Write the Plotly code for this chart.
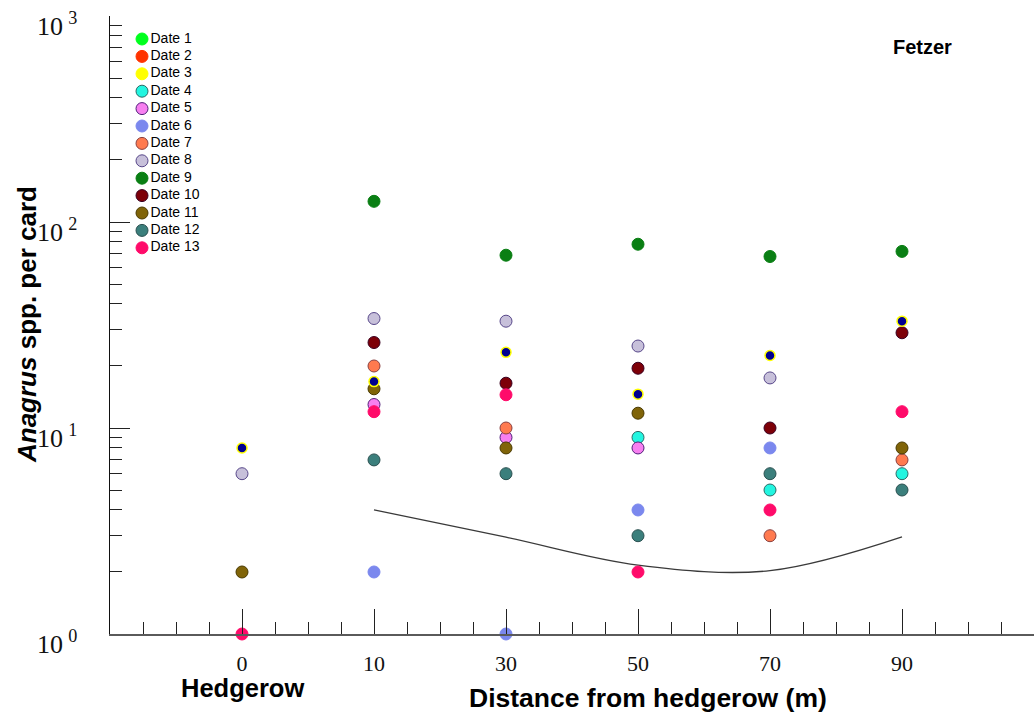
import math
import plotly.graph_objects as go

# Sampling stations (m from hedgerow); plotted at evenly spaced positions
distance_labels = ["0", "10", "30", "50", "70", "90"]
positions = [0, 1, 2, 3, 4, 5]

# Anagrus counts per sticky card, one list per sampling date (None = no card)
date_names = ["Date 1", "Date 2", "Date 3", "Date 4", "Date 5", "Date 6", "Date 7",
              "Date 8", "Date 9", "Date 10", "Date 11", "Date 12", "Date 13"]
date1 = [None, None, None, None, None, None]
date2 = [None, None, None, None, None, None]
date3 = [None, None, None, None, None, None]
date4 = [None, None, None, 9, 5, 6]
date5 = [None, 13, 9, 8, None, None]
date6 = [None, 2, 1, 4, 8, None]
date7 = [None, 20, 10, None, 3, 7]
date8 = [6, 34, 33, 25, 17.5, None]
date9 = [None, 126, 69, 78, 68, 72]
date10 = [None, 26, 16.5, 19.5, 10, 29]
date11 = [2, 15.5, 8, 11.8, None, 8]
date12 = [None, 7, 6, 3, 6, 5]
date13 = [1, 12, 14.5, 2, 4, 12]
date_values = [date1, date2, date3, date4, date5, date6, date7,
               date8, date9, date10, date11, date12, date13]

# Navy series drawn without a legend entry
navy_values = [8, 16.8, 23.3, 14.6, 22.5, 33]

# Fitted trend across the field
trend_positions = [1, 2, 3, 4, 5]
trend_values = [4.0, 2.95, 2.16, 2.03, 2.96]

# Decade tick labels on the count axis
decades = [1, 10, 100, 1000]
decade_labels = ["10\u2009<sup>0</sup>", "10\u2009<sup>1</sup>",
                 "10\u2009<sup>2</sup>", "10\u2009<sup>3</sup>"]

fill_colors = ["#00ff1e", "#ff3300", "#ffff00", "#22f5e0", "#f77ff0", "#7b88ee", "#ff7a4f",
               "#c7c0da", "#0a7f14", "#7d0008", "#806408", "#3b7f7c", "#ff0b6a"]
edge_colors = ["#00ff1e", "#ff3300", "#ffff00", "#2a6a66", "#50207a", "#7b88ee", "#8a4040",
               "#58488a", "#0a7f14", "#3a0020", "#4a3a00", "#2a5050", "#ff0b6a"]

SANS = "Liberation Sans, Arial, sans-serif"
SERIF = "Liberation Serif, Times New Roman, serif"

fig = go.Figure()

fig.add_trace(go.Scatter(
    x=trend_positions, y=trend_values, mode="lines",
    line=dict(color="#3a3a3a", width=1.3, shape="spline", smoothing=1.0),
    showlegend=False, hoverinfo="skip"))

for name, vals, fc, ec in zip(date_names, date_values, fill_colors, edge_colors):
    fig.add_trace(go.Scatter(
        x=positions, y=vals, mode="markers", name=name,
        marker=dict(size=12, color=fc, line=dict(color=ec, width=1)),
        cliponaxis=False, showlegend=False))

fig.add_trace(go.Scatter(
    x=positions, y=navy_values, mode="markers", name="navy",
    marker=dict(size=10, color="#000090", line=dict(color="#ffff00", width=1.5)),
    cliponaxis=False, showlegend=False))

# Key in the upper-left corner, laid out on a pixel-scaled overlay axis
key_x0, key_y0, key_step = 142, 39, 17.4
fig.add_trace(go.Scatter(
    x=[key_x0] * len(date_names),
    y=[key_y0 + key_step * i for i in range(len(date_names))],
    mode="markers+text", text=date_names, textposition="middle right",
    textfont=dict(family=SANS, size=14, color="#000000"),
    marker=dict(size=12, color=fill_colors, line=dict(color=edge_colors, width=1)),
    xaxis="x2", yaxis="y2", showlegend=False, hoverinfo="skip", cliponaxis=False))

minor_vals = [m * d for d in [1, 10, 100] for m in range(2, 10)]

fig.update_layout(
    width=1034, height=721,
    margin=dict(l=110, r=0, t=16, b=87),
    paper_bgcolor="white", plot_bgcolor="white",
    showlegend=False,
    xaxis=dict(
        range=[-1, 6], showgrid=False, zeroline=False,
        showline=True, linecolor="#5a5a5a", linewidth=2,
        tickmode="array", tickvals=positions, ticktext=distance_labels,
        ticks="inside", ticklen=25, tickwidth=1, tickcolor="#222222",
        tickfont=dict(family=SERIF, size=22, color="#111111"),
        ticklabelstandoff=9,
        minor=dict(tick0=0, dtick=0.25, ticks="inside", ticklen=12,
                   tickwidth=1, tickcolor="#222222", showgrid=False),
    ),
    yaxis=dict(
        type="log", range=[0, 3], showgrid=False, zeroline=False,
        showline=True, linecolor="#111111", linewidth=1,
        showticklabels=False,
        tickmode="array", tickvals=decades,
        ticks="inside", ticklen=20, tickwidth=1, tickcolor="#222222",
        minor=dict(tickmode="array", tickvals=minor_vals, ticks="inside", ticklen=12,
                   tickwidth=1, tickcolor="#222222", showgrid=False),
    ),
    xaxis2=dict(overlaying="x", range=[110, 1034], visible=False, fixedrange=True),
    yaxis2=dict(overlaying="y", range=[634, 16], visible=False, fixedrange=True),
    annotations=[
        dict(text="<b>Fetzer</b>", x=0.8788, y=0.9498, xref="paper", yref="paper",
             showarrow=False, xanchor="center", yanchor="middle",
             font=dict(family=SANS, size=20, color="#000000")),
        dict(text="<b>Hedgerow</b>", x=0, y=-0.087, xref="x", yref="paper",
             showarrow=False, xanchor="center", yanchor="middle",
             font=dict(family=SANS, size=25.5, color="#000000")),
        dict(text="<b>Distance from hedgerow (m)</b>", x=0.5823, y=-0.1036,
             xref="paper", yref="paper", showarrow=False,
             xanchor="center", yanchor="middle",
             font=dict(family=SANS, size=26.5, color="#000000")),
        dict(text="<b><i>Anagrus</i> spp. per card</b>", x=-0.0898, y=0.5,
             xref="paper", yref="paper", showarrow=False, textangle=-90,
             xanchor="center", yanchor="middle",
             font=dict(family=SANS, size=26, color="#000000")),
    ],
)

# Decade labels sit just below their ticks, set in a serif face
for val, label in zip(decades, decade_labels):
    fig.add_annotation(
        text=label, x=0.0, xref="paper", xanchor="right", xshift=-31,
        y=math.log10(val), yref="y", yanchor="middle", yshift=-8,
        showarrow=False, font=dict(family=SERIF, size=26, color="#111111"))

fig.write_html("out.html")
